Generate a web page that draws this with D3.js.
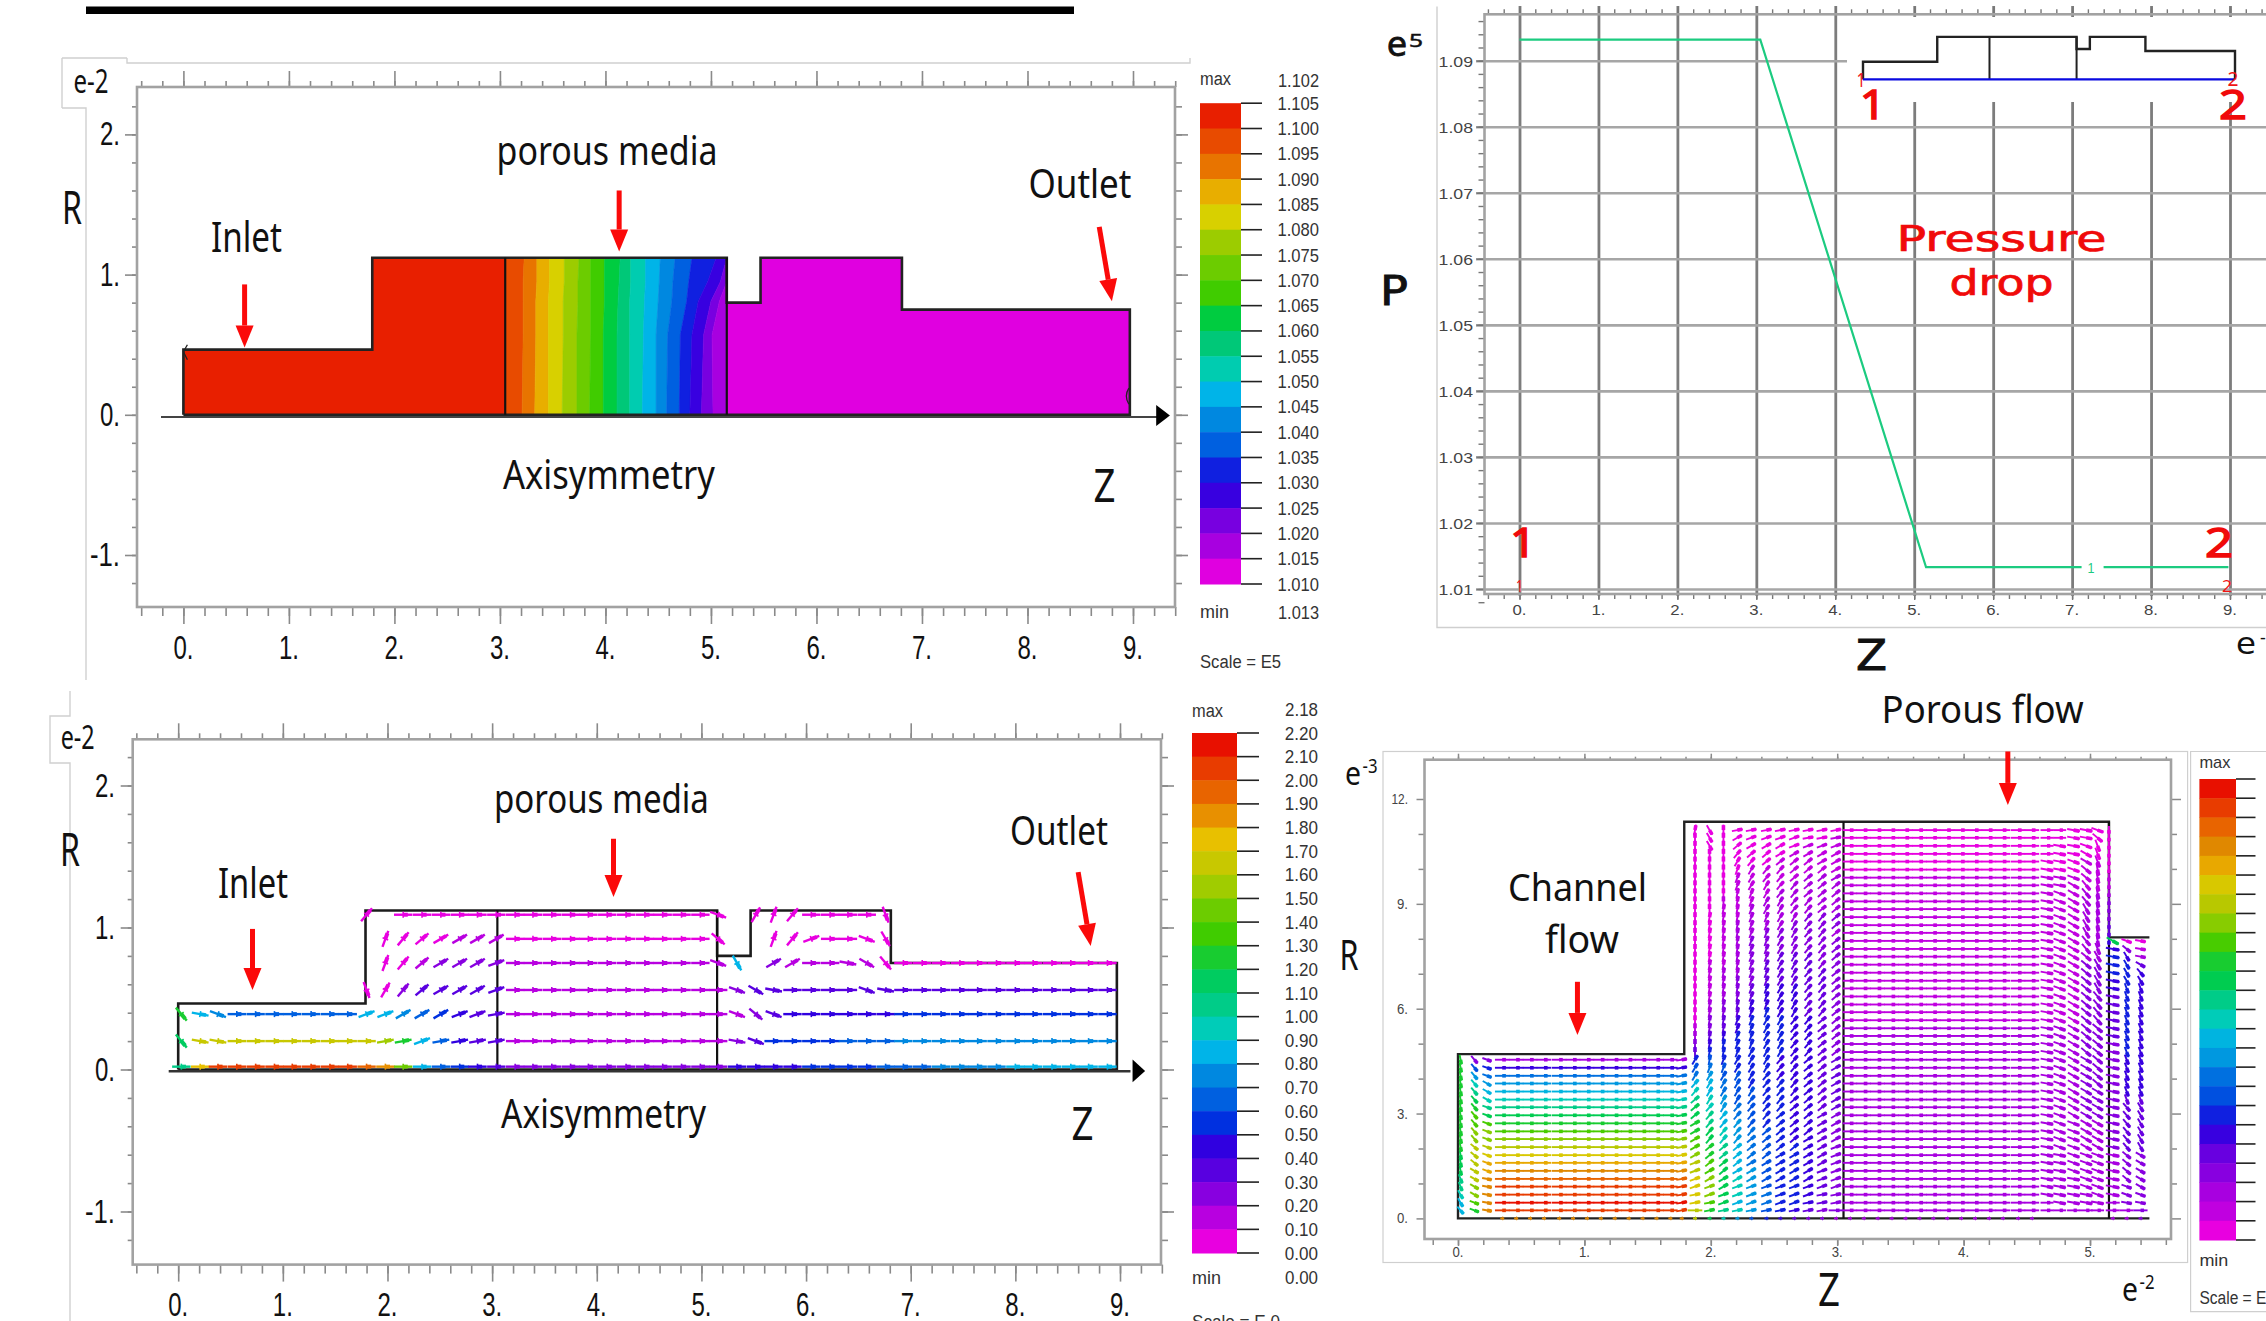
<!DOCTYPE html>
<html>
<head>
<meta charset="utf-8">
<script src="https://cdn.jsdelivr.net/npm/d3@7"></script>
<style>
html, body { margin: 0; padding: 0; background: #fff; overflow: hidden; }
text { fill: #111; }
</style>
</head>
<body>
<svg id="svg" width="2266" height="1321"></svg>
<script>
// shared stepped geometry, z in e-2, r in e-2
var profileZ = [0, 0, 1.79, 1.79, 5.15, 5.15, 5.47, 5.47, 6.81, 6.81, 8.97, 8.97, 0]
var profileR = [0, 0.465, 0.465, 1.12, 1.12, 0.80, 0.80, 1.12, 1.12, 0.75, 0.75, 0, 0]
var dividerZ = [3.05, 5.15]

// zoomed geometry of the flow panel, z in e-2, r in e-3
var zoomProfileZ = [5.47, 0, 0, 1.79, 1.79, 5.15, 5.15, 5.47]
var zoomProfileR = [0, 0, 4.7, 4.7, 11.35, 11.35, 8.04, 8.04]

var pressureTicks = ["1.105", "1.100", "1.095", "1.090", "1.085", "1.080", "1.075", "1.070", "1.065", "1.060", "1.055", "1.050", "1.045", "1.040", "1.035", "1.030", "1.025", "1.020", "1.015", "1.010"]
var pressureColors = ["#e81f00", "#e84b00", "#e87400", "#e8ae00", "#d8d000", "#9ccc00", "#6ccc00", "#40cc00", "#00cc40", "#00c878", "#00ccb0", "#00b4e8", "#0088e0", "#0060e0", "#1020e0", "#3800e0", "#7800e0", "#a800e0", "#e000e0"]
var velocityTicks = ["2.20", "2.10", "2.00", "1.90", "1.80", "1.70", "1.60", "1.50", "1.40", "1.30", "1.20", "1.10", "1.00", "0.90", "0.80", "0.70", "0.60", "0.50", "0.40", "0.30", "0.20", "0.10", "0.00"]
var velocityColors = ["#e81000", "#e83c00", "#e86400", "#e89000", "#e8c000", "#c8c800", "#a0cc00", "#6ccc00", "#40cc00", "#18cc30", "#00cc60", "#00cc88", "#00ccb8", "#00b4e8", "#0088e0", "#0060e0", "#0030e0", "#3000e0", "#5800e0", "#8800e0", "#b800e0", "#e800e0"]
var zoomColors = ["#e81000", "#e83c00", "#e86400", "#e08800", "#e8a800", "#d8c800", "#b8c800", "#88cc00", "#48cc00", "#18cc30", "#00cc50", "#00cc88", "#00ccb8", "#00b4e0", "#0098e0", "#0070e0", "#0050e0", "#1020e0", "#3800e0", "#6800e0", "#8800e0", "#a800e0", "#c000e0", "#e800e0"]

// pressure isolines inside the porous block: z of each band boundary at a given r
var isoR = [0, 0.57, 0.81, 0.95, 1.12]
var isoAtR0 = [3.05, 3.21, 3.33, 3.46, 3.59, 3.73, 3.85, 3.98, 4.11, 4.23, 4.35, 4.48, 4.58, 4.70, 4.80, 4.91, 5.02, 5.15]
var isoAtR1 = [3.05, 3.22, 3.34, 3.46, 3.60, 3.73, 3.86, 3.98, 4.11, 4.23, 4.36, 4.48, 4.59, 4.71, 4.82, 4.93, 5.01, 5.15]
var isoAtR2 = [3.05, 3.22, 3.34, 3.46, 3.60, 3.74, 3.86, 3.99, 4.12, 4.23, 4.37, 4.50, 4.63, 4.77, 4.88, 5.00, 5.08, 5.15]
var isoAtR3 = [3.05, 3.22, 3.35, 3.47, 3.61, 3.74, 3.86, 3.99, 4.13, 4.24, 4.38, 4.51, 4.64, 4.79, 4.97, 5.09, 5.15, 5.15]
var isoAtR4 = [3.05, 3.23, 3.35, 3.47, 3.61, 3.75, 3.86, 3.99, 4.14, 4.24, 4.38, 4.52, 4.66, 4.82, 5.05, 5.15, 5.15, 5.15]

// pressure along the axis
var lineZ = [0, 3.05, 5.15, 8.98]
var lineP = [1.0932, 1.0932, 1.0133, 1.0133]

// coarse vector plot, one string per row, one letter per column (a = lowest colour band)
// angle chars: digit = +10deg steps, letter = -10deg steps, empty = horizontal
var coarseZ = [0.03, 0.21, 0.38, 0.56, 0.74, 0.92, 1.09, 1.27, 1.45, 1.62, 1.80, 1.98, 2.15, 2.33, 2.51, 2.69, 2.86, 3.04, 3.22, 3.39, 3.57, 3.75, 3.92, 4.10, 4.28, 4.46, 4.63, 4.81, 4.99, 5.16, 5.34, 5.52, 5.69, 5.87, 6.05, 6.23, 6.40, 6.58, 6.76, 6.93, 7.11, 7.29, 7.47, 7.64, 7.82, 8.00, 8.17, 8.35, 8.53, 8.70, 8.88]
var coarseR = [0.02, 0.2, 0.39, 0.56, 0.75, 0.92, 1.09]
var coarseLevels = [
  "kr" + "uuuuuuuu" + "tsoigfed" + "cccccccccccc" + "eeeeffffg" + "gghhhhiiiiii",
  "l" + "qqqqqqqqqq" + "pmigedd" + "bbbbbbbbbbbb" + "cd" + "ffff" + "ggg" + "hhhhhhhhhhhh",
  "mih" + "ggggggg" + "iihgfedd" + "bbbbbbbbbbbb" + "bcd" + "eeeeee" + "ffffffffffff",
  ".........." + "aacddddd" + "bbbbbbbbbbbb" + "c" + "dddddddddddddddddddd",
  "..........." + "aabcccc" + "bbbbbbbbbbbb" + "i." + "cb" + "bbbb" + "a" + "aaaaaaaaaaaa",
  "..........." + "aaaabbb" + "aaaaaaaaaaaa" + ".." + "aaaaaaa" + "............",
  ".........." + "a." + "aaaaaa" + "aaaaaaaaaaaa" + ".a" + "aaaaaaa" + "............"
]
var coarseAngles = [
  "",
  "e" + "aa" + "00000000" + "1121111" + "000000000000" + "ab",
  "e" + "a" + "b" + "0000000" + "22333221" + "000000000000" + "bdb",
  "0000000000" + "g6543332" + "000000000000" + "bca" + "0000" + "ba",
  "00000000000" + "7543332" + "00000000000b" + "f0" + "33" + "00ac" + "e",
  "00000000000" + "7543333" + "00000000000d" + "00" + "75200bf",
  "0000000000" + "50" + "000000" + "00000000000b" + "06" + "75000" + "0g"
]

// fine vector plot: rows run from the top wall down to the axis
var fineR = [11.11, 10.89, 10.66, 10.43, 10.21, 9.98, 9.75, 9.53, 9.30, 9.07, 8.85, 8.62, 8.39, 8.17, 7.94, 7.71, 7.49, 7.26, 7.03, 6.80, 6.58, 6.35, 6.12, 5.90, 5.67, 5.44, 5.22, 4.99, 4.76, 4.54, 4.31, 4.08, 3.86, 3.63, 3.40, 3.18, 2.95, 2.72, 2.49, 2.27, 2.04, 1.81, 1.59, 1.36, 1.13, 0.91, 0.68, 0.45, 0.23, 0]

// inlet section, 3 columns, last 20 rows above the axis
var inletZ = [0.02, 0.13, 0.23]
var inletLevels = ["odd", "ohg", "oji", "olj", "omk", "onl", "oom", "opn", "opp", "oqq", "oqq", "orr", "nrs", "nrt", "nrt", "mru", "mqu", "lqu", "kpu", "kou"]
var inletAngles = ["heb", "heb", "heb", "hec", "hec", "hec", "heb", "heb", "heb", "heb", "heb", "hdb", "hdb", "hdb", "hcb", "gca", "gca", "fca", "fba", "eba"]

// straight channel, colour is set by the row alone
var channelZ = [0.35, 0.46, 0.57, 0.68, 0.80, 0.91, 1.02, 1.13, 1.24, 1.35, 1.46, 1.57, 1.68, 1.77]
var channelAngle = ["0", "0", "0", "0", "0", "0", "0", "0", "0", "0", "0", "0", "0", "1"]
var channelLevels = "cfijklmnopqrstuvwwxw"

// expansion ahead of the porous block
var fanZ = [1.875, 1.99, 2.10, 2.21, 2.32, 2.44, 2.55, 2.66, 2.77, 2.88, 2.99]
var fanLevels = ["aaaaaaaaaaa", "aaaaaaaaaab", "aaaaaaaabbb", "aaaaaaabbbb", "aaaaaabbbbb", "aaaabbbbbbb", "aaabbbbbccc", "aaabbbbcccc", "aaabbbccccc", "aabbbcccccc", "aabbccccccc", "aabbccccddd", "aabccccdddd", "aabccdddddc", "aabcddddddd", "aabcddddddd", "aabcddeeedd", "abbcdeeeedd", "abccdeeeeed", "abcddeeeeed", "abcdefffeed", "abcdefffeed", "acdeffffeed", "acdefgffeed", "adefgggffed", "bdefgggffed", "cefggggffed", "dfgggggffed", "eggggggffed", "ghggggfffee", "hihgggfffee", "ijhhggfffee", "kkihgggffee", "lkihhggffee", "mljhhggffee", "nljihggffee", "nmkihggffed", "omkjhggffed", "onljihgffed", "pnljihgffed", "pomkihggfed", "qomkihggfed", "rpnkihggfed", "rpnkjhggfed", "sqnljhggfed", "sqnljhggfed", "sqnljiggfed", "spnkjiggfed", "romljhgfedd", "rnljhgfeddc"]
var fanAngles = ["8f911111111", "9f932222111", "9f943332222", "99954433333", "99965444433", "99976554443", "99976554443", "99976655444", "99987655444", "99987665544", "99887665544", "98887766554", "98887766554", "98887766554", "98887766554", "98887766554", "98887766554", "98887766554", "98887766554", "98887766554", "98887766554", "98887766554", "98887766554", "98887766554", "98877665544", "98877665544", "98877665544", "98877665544", "98876665544", "68766655443", "67766655443", "66666555443", "56666555443", "56666555443", "46665554443", "45655554443", "45555544433", "35555544433", "35555444433", "35554444333", "34444444332", "34444433332", "24443333332", "23433333322", "23333333322", "22322222222", "12222222211", "11222222111", "01111111110", "00000000000"]

// porous block, horizontal part then the columns that bend towards the outlet
var porousZ = [3.10, 3.21, 3.32, 3.43, 3.54, 3.65, 3.76, 3.87, 3.98, 4.09, 4.20, 4.31, 4.43, 4.54]
var porousLevels = "aaaaaabbbbbbbbbbbbbbbbbbbccccccccccccccccccccccccc"
var bendZ = [4.66, 4.76, 4.87, 4.97, 5.06, 5.15]
var bendLevels = "aaaabbbbcccccccccddddddddddddddddddddcccccccccccccc"
var wallLevels = "aaaaaabbcdddeef"
var bendAngles = ["00aabi", "00aadi", "0aabgi", "0aacgi", "aabcgi", "aabdhi", "aabdhi", "aacehi", "abcehi", "abcehi", "abcfhi", "abcfhi", "abcfhi", "abcfhi", "abcehi", "abceg.", "abcdf.", "abcdf.", "abcdf.", "abcdf.", "abcdf.", "abcde.", "abcde.", "abcde.", "abcde.", "abcdd.", "abcdd.", "abcdd.", "abcdd.", "abccd.", "abccd.", "abccd.", "abccd.", "abccc.", "abccc.", "abccc.", "abccc.", "abbcc.", "abbcc.", "abbcc.", "abbcc.", "aabbb.", "aabbb.", "aabbb.", "aaabb.", "aaabb.", "aaaab.", "0aaaa.", "00000."]

// section behind the porous block, rows up to the step at r = 8
var exitZ = [5.18, 5.29, 5.40]
var exitLevels = ["naa", "fdb", "gfc", "gge", "ggf", "fgf", "fgf", "egf", "egf", "egf", "egf", "egf", "egf", "dgf", "dgf", "dff", "dff", "dff", "dff", "dff", "dee", "dee", "dee", "dee", "dee", "dee", "dee", "cdd", "cdd", "cdd", "cdd", "cdd", "cdd", "cdd", "ccd", "ccd"]
var exitAngles = ["cba", "ada", "afa", "afc", "afe", "aff", "agg", "agg", "agg", "agg", "agg", "agg", "agg", "agg", "agg", "agg", "agg", "agg", "agg", "agg", "agg", "aef", "aef", "aef", "aef", "aef", "aef", "adc", "adc", "adc", "adc", "abc", "abb", "0aa", "000", "000"]

var svg = d3.select("#svg")
var root = svg.append("g")
var sansCal = "'Noto Sans', sans-serif"
var sansAr = "'Liberation Sans', Arial, sans-serif"
var sansDj = "'DejaVu Sans', sans-serif"

function label(g, str, x, y, size, width, opts) {
    opts = opts || {}
    var t = g.append("text")
        .attr("x", x).attr("y", y)
        .attr("font-size", size)
        .attr("font-family", opts.family || sansCal)
        .attr("text-anchor", opts.anchor || "middle")
        .style("fill", opts.color || "#111")
        .text(str)
    if (width) t.attr("textLength", width).attr("lengthAdjust", "spacingAndGlyphs")
    if (opts.heavy) t.style("stroke", opts.color || "#111").style("stroke-width", opts.heavy)
    return t
}

function straight(g, x1, y1, x2, y2, color, w) {
    g.append("line").attr("x1", x1).attr("y1", y1).attr("x2", x2).attr("y2", y2)
        .attr("stroke", color).attr("stroke-width", w)
}

function redArrow(g, x1, y1, x2, y2) {
    var a = Math.atan2(y2 - y1, x2 - x1), hl = 22, hw = 9
    var bx = x2 - Math.cos(a) * hl, by = y2 - Math.sin(a) * hl
    straight(g, x1, y1, bx, by, "#fb0a0a", 5)
    g.append("polygon").attr("fill", "#fb0a0a").attr("points", [
        [x2, y2],
        [bx - Math.sin(a) * hw, by + Math.cos(a) * hw],
        [bx + Math.sin(a) * hw, by - Math.cos(a) * hw]
    ].join(" "))
}

function pick(str, i) {
    return str ? str[i] : undefined
}

function levelOf(ch) {
    return ch.charCodeAt(0) - 97
}

function angleOf(ch) {
    if (ch === undefined || ch === "0") return 0
    if (ch >= "a") return -(ch.charCodeAt(0) - 96) * 10
    return +ch * 10
}

// frame, ticks, tick labels, all through d3 axes
function drawAxes(g, o) {
    var b = o.box
    var axis = function (maker, scale, vals, size, transform) {
        var a = g.append("g").attr("transform", transform)
            .call(maker(scale).tickValues(vals).tickSize(size).tickFormat(""))
        a.select(".domain").remove()
        a.selectAll("line").attr("stroke", o.tickColor || "#8a8a8a").attr("stroke-width", o.tickWidth || 1.6)
        return a
    }
    axis(d3.axisBottom, o.z, o.zMinor, o.minorB, "translate(0," + b.b + ")")
    axis(d3.axisBottom, o.z, o.zMajor, o.majorB, "translate(0," + b.b + ")")
    axis(d3.axisTop, o.z, o.zMinor, o.minorT, "translate(0," + b.t + ")")
    axis(d3.axisTop, o.z, o.zMajor, o.majorT, "translate(0," + b.t + ")")
    axis(d3.axisLeft, o.r, o.rMinor, o.minorL, "translate(" + b.l + ",0)")
    axis(d3.axisLeft, o.r, o.rMajor, o.majorL, "translate(" + b.l + ",0)")
    if (o.minorR) {
        axis(d3.axisRight, o.r, o.rMinor, o.minorR, "translate(" + b.r + ",0)")
        axis(d3.axisRight, o.r, o.rMajor, o.majorR, "translate(" + b.r + ",0)")
    }
    g.append("rect").attr("x", b.l).attr("y", b.t).attr("width", b.r - b.l).attr("height", b.b - b.t)
        .attr("fill", "none").attr("stroke", "#a2a2a2").attr("stroke-width", 2.6)
    o.zMajor.forEach(function (v) {
        label(g, v + ".", o.z(v), o.zLabelY, o.labelSize, o.zLabelW, { family: sansAr, color: o.labelColor })
    })
    o.rMajor.forEach(function (v) {
        var str = (o.rLabels ? o.rLabels(v) : v + ".")
        label(g, str, o.rLabelX, o.r(v) + o.rLabelDy, o.labelSize, str.length * o.rLabelW, { family: sansAr, anchor: "end", color: o.labelColor })
    })
}

function colorBar(g, o) {
    var n = o.colors.length
    var band = d3.scaleBand().domain(d3.range(n)).range([o.top, o.bottom]).paddingInner(0)
    g.selectAll(null).data(o.colors).enter().append("rect")
        .attr("x", o.x0).attr("width", o.x1 - o.x0)
        .attr("y", function (d, i) { return band(i) })
        .attr("height", band.bandwidth() + 0.5)
        .attr("fill", function (d) { return d })
    var ty = d3.scaleLinear().domain([0, n]).range([o.top, o.bottom])
    g.selectAll(null).data(d3.range(n + 1)).enter().append("line")
        .attr("x1", o.x1).attr("x2", o.tick)
        .attr("y1", ty).attr("y2", ty)
        .attr("stroke", "#222").attr("stroke-width", 1.6)
    if (o.ticks) {
        o.ticks.forEach(function (t, i) {
            label(g, t, o.textRight, ty(i) + 6.5, 18.5, t.length * 8.3, { family: sansAr, anchor: "end", color: "#333" })
        })
    }
    label(g, "max", o.x0, o.maxY, o.small, 31, { family: sansAr, anchor: "start", color: "#333" })
    label(g, "min", o.x0, o.minY, o.small, 29, { family: sansAr, anchor: "start", color: "#333" })
}

// each cell becomes a short shaft with a thicker head, colour lists run from red down to magenta
function drawVectors(g, cells, x, y, colors, o) {
    var pos = cells.map(function (d) {
        var a = d.angle * Math.PI / 180
        var L = d.len !== undefined ? d.len : (d.angle === 0 ? o.lenFlat : o.lenSlant)
        return { px: x(d.z), py: y(d.r), cx: Math.cos(a), cy: -Math.sin(a), L: L, color: colors[colors.length - 1 - d.level], flat: d.angle === 0 }
    })
    g.selectAll(null).data(pos).enter().append("line")
        .attr("x1", function (d) { return d.px - d.cx * d.L / 2 })
        .attr("y1", function (d) { return d.py - d.cy * d.L / 2 })
        .attr("x2", function (d) { return d.px + d.cx * d.L / 2 })
        .attr("y2", function (d) { return d.py + d.cy * d.L / 2 })
        .attr("stroke", function (d) { return d.color })
        .attr("stroke-width", o.shaft)
    g.selectAll(null).data(pos).enter().append("line")
        .attr("x1", function (d) { return d.px })
        .attr("y1", function (d) { return d.py })
        .attr("x2", function (d) { return d.px + d.cx * d.L * (d.flat ? 0.25 : o.head) })
        .attr("y2", function (d) { return d.py + d.cy * d.L * (d.flat ? 0.25 : o.head) })
        .attr("stroke", function (d) { return d.color })
        .attr("stroke-width", o.headWidth)
    if (o.cross) {
        g.selectAll(null).data(pos).enter().append("line")
            .attr("x1", function (d) { return d.px + d.cy * o.cross })
            .attr("y1", function (d) { return d.py - d.cx * o.cross })
            .attr("x2", function (d) { return d.px - d.cy * o.cross })
            .attr("y2", function (d) { return d.py + d.cx * o.cross })
            .attr("stroke", function (d) { return d.color })
            .attr("stroke-width", 1.6)
    }
}

function stepped(z, r) {
    return d3.line().x(function (d, i) { return z(d[0]) }).y(function (d) { return r(d[1]) })
}

var profilePts = d3.zip(profileZ, profileR)

function zTicks(a, b) { return d3.range(a, b + 0.001, 0.2) }

// ---- top background bar
root.append("rect").attr("x", 86).attr("y", 6.5).attr("width", 988).attr("height", 7.5).attr("fill", "#000")

// ---- panel A: pressure contour
function panelA() {
    var g = root.append("g")
    var z = d3.scaleLinear().domain([0, 9]).range([183.4, 1133])
    var r = d3.scaleLinear().domain([-1, 2]).range([555, 134.4])
    var box = { l: 137, t: 87, r: 1175, b: 607 }

    g.append("path").attr("fill", "none").attr("stroke", "#d0d0d0").attr("stroke-width", 1.4)
        .attr("d", "M62,108V58M62,58H127M127,58V63H1190V58M62,108H86V680")
    drawAxes(g, {
        z: z, r: r, box: box,
        zMajor: d3.range(0, 10), zMinor: zTicks(-0.4, 9.4),
        rMajor: [2, 1, 0, -1], rMinor: zTicks(-1.2, 2.2),
        minorB: 9, majorB: 17, minorT: 6, majorT: 16, minorL: 5, majorL: 12, minorR: 7, majorR: 13,
        zLabelY: 659, labelSize: 33, zLabelW: 20, rLabelX: 120, rLabelDy: 11, rLabelW: 10
    })
    colorBar(g, {
        colors: pressureColors, ticks: pressureTicks, x0: 1200, x1: 1241, tick: 1262,
        top: 103.2, bottom: 584, textRight: 1319, maxY: 85, minY: 618, small: 18
    })
    label(g, "1.102", 1319, 87, 18.5, 41, { family: sansAr, anchor: "end", color: "#333" })
    label(g, "1.013", 1319, 619, 18.5, 41, { family: sansAr, anchor: "end", color: "#333" })
    label(g, "Scale = E5", 1200, 668, 18, 81, { family: sansAr, anchor: "start", color: "#333" })

    var defs = g.append("defs")
    defs.append("clipPath").attr("id", "clipA").append("path").attr("d", stepped(z, r)(profilePts))
    var body = g.append("g").attr("clip-path", "url(#clipA)")
    body.append("rect").attr("x", z(0)).attr("width", z(3.05) - z(0)).attr("y", r(1.3)).attr("height", r(0) - r(1.3))
        .attr("fill", pressureColors[0])
    body.append("rect").attr("x", z(5.15)).attr("width", z(8.97) - z(5.15)).attr("y", r(1.3)).attr("height", r(0) - r(1.3))
        .attr("fill", pressureColors[18])
    var iso = [isoAtR0, isoAtR1, isoAtR2, isoAtR3, isoAtR4]
    var edge = d3.line().x(function (d) { return z(d[0]) }).y(function (d) { return r(d[1]) })
    d3.range(isoAtR0.length - 1).forEach(function (i) {
        var left = iso.map(function (row, k) { return [row[i], isoR[k]] })
        var right = iso.map(function (row, k) { return [row[i + 1], isoR[k]] }).reverse()
        body.append("path").attr("d", edge(left.concat(right)) + "Z")
            .attr("fill", pressureColors[i + 1]).attr("stroke", pressureColors[i + 1]).attr("stroke-width", 0.6)
    })
    g.append("path").attr("d", stepped(z, r)(profilePts)).attr("fill", "none").attr("stroke", "#222").attr("stroke-width", 2.6)
    dividerZ.forEach(function (v) { straight(g, z(v), r(0), z(v), r(1.12), "#111", 2.2) })

    // axisymmetry line and arrow head
    straight(g, 161, r(-0.015), z(9.3), r(-0.015), "#444", 2)
    g.append("polygon").attr("fill", "#000").attr("points", [[z(9.22), r(0.07)], [z(9.35), r(-0.005)], [z(9.22), r(-0.08)]].join(" "))
    g.append("path").attr("d", "M" + (z(0) + 4) + "," + r(0.50) + "l-4,7l4,8").attr("fill", "none").attr("stroke", "#222").attr("stroke-width", 1.3)
    g.append("path").attr("d", "M" + (z(8.97) - 1) + "," + r(0.19) + "q-5,8 0,16").attr("fill", "none").attr("stroke", "#222").attr("stroke-width", 1.3)

    redArrow(g, z(0.58), r(0.93), z(0.58), r(0.48))
    redArrow(g, z(4.13), r(1.6), z(4.13), r(1.165))
    redArrow(g, z(8.68), r(1.34), z(8.80), r(0.81))

    label(g, "e-2", 91, 93, 33, 35)
    label(g, "R", 72, 224, 45, 20)
    label(g, "Inlet", 246.5, 252, 42, 71)
    label(g, "porous media", 607, 165, 40, 221)
    label(g, "Outlet", 1080, 198, 40, 103)
    label(g, "Axisymmetry", 609, 489, 40, 212)
    label(g, "Z", 1104.5, 502, 46, 22)
}

// ---- panel C: pressure drop line with inset
function panelC() {
    var g = root.append("g")
    var z = d3.scaleLinear().domain([0, 9]).range([1519.5, 2230])
    var p = d3.scaleLinear().domain([1.01, 1.09]).range([589, 60.7])
    var box = { l: 1484.5, t: 14.3, r: 2268, b: 594 }

    g.append("path").attr("fill", "none").attr("stroke", "#cfcfcf").attr("stroke-width", 1.4)
        .attr("d", "M1437,6.5V627.5H2266")

    var grid = d3.range(0, 10)
    var gridV = g.append("g").attr("transform", "translate(0,596)")
        .call(d3.axisTop(z).tickValues(grid).tickSize(590).tickFormat(""))
    gridV.select(".domain").remove()
    gridV.selectAll("line").attr("stroke", "#7c7c7c").attr("stroke-width", 2.8)
    var pMajor = [1.01, 1.02, 1.03, 1.04, 1.05, 1.06, 1.07, 1.08, 1.09]
    var gridH = g.append("g").attr("transform", "translate(2266,0)")
        .call(d3.axisLeft(p).tickValues(pMajor).tickSize(790).tickFormat(""))
    gridH.select(".domain").remove()
    gridH.selectAll("line").attr("stroke", "#a6a6a6").attr("stroke-width", 2.6)

    var pMinor = d3.range(1.008, 1.0961, 0.002).filter(function (v) { return p(v) > 16 })
    drawAxes(g, {
        z: z, r: p, box: box,
        zMajor: grid, zMinor: zTicks(-0.4, 9.4),
        rMajor: pMajor, rMinor: pMinor,
        minorB: 5, majorB: 6, minorT: 5, majorT: 7, minorL: 6, majorL: 8,
        zLabelY: 615, labelSize: 15.5, zLabelW: 14, rLabelX: 1473, rLabelDy: 6, rLabelW: 8.6,
        labelColor: "#444", tickColor: "#777", tickWidth: 1.4,
        rLabels: function (v) { return v.toFixed(2) }
    })

    // green pressure curve
    var line = d3.line().x(function (d) { return z(d[0]) }).y(function (d) { return p(d[1]) })
    g.append("path").attr("d", line(d3.zip(lineZ, lineP))).attr("fill", "none").attr("stroke", "#1ccb80").attr("stroke-width", 2.2)
    g.append("rect").attr("x", z(7.12)).attr("y", p(1.0133) - 6).attr("width", 22).attr("height", 12).attr("fill", "#fff")
    label(g, "1", z(7.24), p(1.0133) + 6, 15, 7, { family: sansAr, color: "#1ccb80" })

    // inset keeps its own white patch over the grid
    g.append("rect").attr("x", 1847).attr("y", 17).attr("width", 419).attr("height", 85).attr("fill", "#fff")
    var iz = d3.scaleLinear().domain([0, 8.97]).range([1863, 2235])
    var ir = d3.scaleLinear().domain([0, 1.12]).range([79.4, 36.9])
    g.append("path").attr("d", stepped(iz, ir)(profilePts.slice(0, 12))).attr("fill", "none").attr("stroke", "#222").attr("stroke-width", 2.4)
    dividerZ.forEach(function (v) { straight(g, iz(v), ir(0), iz(v), ir(1.12), "#222", 2) })
    straight(g, iz(0), ir(0), iz(8.97), ir(0), "#0a0ae0", 2.4)

    label(g, "1", iz(0) - 2, ir(0) + 8, 20, 9, { color: "#f01414" })
    label(g, "2", iz(8.97) - 2, ir(0) + 7, 20, 11, { color: "#f01414" })
    label(g, "1", 1872.7, 119, 40, 26, { color: "#f00a0a", heavy: 1.4 })
    label(g, "2", 2233, 119, 40, 28, { color: "#f00a0a", heavy: 1.4 })
    label(g, "1", 1523, 557, 40, 26, { color: "#f00a0a", heavy: 1.4 })
    label(g, "2", 2219, 557, 40, 28, { color: "#f00a0a", heavy: 1.4 })
    label(g, "1", z(0), 592, 17, 7, { color: "#f01414" })
    label(g, "2", z(9) - 3, 592, 17, 10, { color: "#f01414" })
    label(g, "Pressure", 2001.5, 250.6, 35, 210, { family: sansDj, color: "#f00a0a", heavy: 0.7 })
    label(g, "drop", 2001.5, 295, 35, 104, { family: sansDj, color: "#f00a0a", heavy: 0.7 })

    label(g, "e", 1397, 56, 34, 20, { family: sansDj, heavy: 0.9 })
    label(g, "5", 1416, 47, 18, 14, { heavy: 0.5 })
    label(g, "P", 1394, 305, 40, 28, { family: sansDj, heavy: 0.9 })
    label(g, "Z", 1871.5, 670, 42, 31, { family: sansDj, heavy: 0.9 })
    label(g, "e", 2246, 654, 31, 20, { family: sansDj })
    label(g, "-2", 2268, 644, 18, 16)
}

// ---- panel B: coarse velocity vectors
function panelB() {
    var g = root.append("g")
    var z = d3.scaleLinear().domain([0, 9]).range([178.2, 1120])
    var r = d3.scaleLinear().domain([-1, 2]).range([1211.5, 785.5])
    var box = { l: 132.7, t: 739.3, r: 1161, b: 1264.6 }

    g.append("path").attr("fill", "none").attr("stroke", "#d0d0d0").attr("stroke-width", 1.4)
        .attr("d", "M70,691V716H50V763H70V1321")
    drawAxes(g, {
        z: z, r: r, box: box,
        zMajor: d3.range(0, 10), zMinor: zTicks(-0.4, 9.4),
        rMajor: [2, 1, 0, -1], rMinor: zTicks(-1.2, 2.2),
        minorB: 9, majorB: 17, minorT: 6, majorT: 16, minorL: 5, majorL: 12, minorR: 7, majorR: 13,
        zLabelY: 1316, labelSize: 33, zLabelW: 20, rLabelX: 115, rLabelDy: 11, rLabelW: 10
    })
    colorBar(g, {
        colors: velocityColors, ticks: velocityTicks, x0: 1192, x1: 1237, tick: 1259,
        top: 733, bottom: 1253, textRight: 1318, maxY: 717, minY: 1284, small: 18
    })
    label(g, "2.18", 1318, 716, 18.5, 33, { family: sansAr, anchor: "end", color: "#333" })
    label(g, "0.00", 1318, 1284, 18.5, 33, { family: sansAr, anchor: "end", color: "#333" })
    label(g, "Scale = E 0", 1192, 1328, 18, 88, { family: sansAr, anchor: "start", color: "#333" })

    var cells = []
    coarseR.forEach(function (rv, i) {
        coarseZ.forEach(function (zv, j) {
            var ch = coarseLevels[i][j]
            if (ch === undefined || ch === ".") return
            cells.push({ z: zv, r: rv, level: levelOf(ch), angle: angleOf(pick(coarseAngles[i], j)) })
        })
    })
    g.append("path").attr("d", stepped(z, r)(profilePts)).attr("fill", "none").attr("stroke", "#1c1c1c").attr("stroke-width", 2.6)
    dividerZ.forEach(function (v) { straight(g, z(v), r(0), z(v), r(1.12), "#111", 2.2) })
    straight(g, 168.7, r(-0.012), z(9.1), r(-0.012), "#333", 2.4)
    drawVectors(g, cells, z, r, velocityColors, { lenFlat: 18.4, lenSlant: 17, shaft: 2.4, head: 0.35, headWidth: 4, cross: 3 })
    g.append("polygon").attr("fill", "#000").attr("points", [[z(9.12), r(0.07)], [z(9.24), r(-0.01)], [z(9.12), r(-0.09)]].join(" "))

    redArrow(g, z(0.71), r(0.99), z(0.71), r(0.56))
    redArrow(g, z(4.16), r(1.625), z(4.16), r(1.215))
    redArrow(g, z(8.6), r(1.39), z(8.72), r(0.87))

    label(g, "e-2", 77.7, 748.7, 33, 34)
    label(g, "R", 70, 866, 45, 20)
    label(g, "Inlet", 253, 897.5, 42, 70)
    label(g, "porous media", 601.4, 813, 40, 215)
    label(g, "Outlet", 1059, 845, 40, 98)
    label(g, "Axisymmetry", 603.6, 1127.7, 40, 205)
    label(g, "Z", 1082.5, 1140, 46, 22)
}

// ---- panel D: fine velocity vectors
function panelD() {
    var g = root.append("g")
    var z = d3.scaleLinear().domain([0, 5]).range([1458, 2090])
    var r = d3.scaleLinear().domain([0, 12]).range([1218.4, 799])
    var box = { l: 1424.5, t: 759.7, r: 2171, b: 1239 }

    g.append("rect").attr("x", 1383).attr("y", 751.5).attr("width", 804.6).attr("height", 511).attr("fill", "none").attr("stroke", "#cfcfcf").attr("stroke-width", 1.2)
    g.append("path").attr("fill", "none").attr("stroke", "#cfcfcf").attr("stroke-width", 1.2).attr("d", "M2266,751.5H2190.6V1311.6H2266")

    drawAxes(g, {
        z: z, r: r, box: box,
        zMajor: [0, 1, 2, 3, 4, 5], zMinor: zTicks(-0.2, 5.6),
        rMajor: [12, 9, 6, 3, 0], rMinor: [11, 10, 8, 7, 5, 4, 2, 1],
        minorB: 6, majorB: 7, minorT: 3, majorT: 6, minorL: 6, majorL: 8, minorR: 6, majorR: 10,
        zLabelY: 1257, labelSize: 14, zLabelW: 11, rLabelX: 1408, rLabelDy: 5, rLabelW: 5.5,
        labelColor: "#444", tickColor: "#8a8a8a", tickWidth: 1.5
    })
    colorBar(g, {
        colors: zoomColors, x0: 2199.4, x1: 2236, tick: 2255.5,
        top: 779, bottom: 1240, maxY: 768, minY: 1266, small: 17
    })
    label(g, "Scale = E", 2199.4, 1303.5, 18, 67, { family: sansAr, anchor: "start", color: "#333" })

    g.append("path").attr("d", stepped(z, r)(d3.zip(zoomProfileZ, zoomProfileR))).attr("fill", "none").attr("stroke", "#222").attr("stroke-width", 2.4)
    dividerZ.forEach(function (v) { straight(g, z(v), r(0), z(v), r(11.35), "#111", 2.2) })

    var cells = []
    fineR.forEach(function (rv, i) {
        var axisRow = i === fineR.length - 1
        var low = i - 29 // rows of the inlet channel
        if (low >= 0 && !axisRow) {
            inletZ.forEach(function (zv, j) {
                cells.push({ z: zv, r: rv, level: levelOf(inletLevels[low][j]), angle: angleOf(inletAngles[low][j]), len: 10 })
            })
            channelZ.forEach(function (zv, j) {
                cells.push({ z: zv, r: rv, level: levelOf(channelLevels[low]), angle: angleOf(channelAngle[j]) })
            })
        }
        if (axisRow) {
            channelZ.forEach(function (zv) {
                cells.push({ z: zv, r: rv, level: 20, angle: 0, len: 4 })
            })
        }
        fanZ.forEach(function (zv, j) {
            var c = { z: zv, r: rv, level: levelOf(fanLevels[i][j]), angle: angleOf(fanAngles[i][j]) }
            if (axisRow) c.len = 4
            cells.push(c)
        })
        porousZ.forEach(function (zv) {
            var c = { z: zv, r: rv, level: levelOf(porousLevels[i]), angle: 0 }
            if (axisRow) c.len = 4
            cells.push(c)
        })
        bendZ.forEach(function (zv, j) {
            var ch = pick(bendAngles[i], j)
            if (ch === "." || ch === undefined) return
            var lev = j === 5 ? levelOf(wallLevels[i] || "f") : (j < 3 ? levelOf(porousLevels[i]) : levelOf(bendLevels[i]))
            var c = { z: zv, r: rv, level: lev, angle: angleOf(ch) }
            c.len = j === 5 ? 8 : 13
            if (axisRow) c.len = 4
            cells.push(c)
        })
        var ex = i - 14 // rows below the step at r = 8
        if (ex >= 0) {
            exitZ.forEach(function (zv, j) {
                var c = { z: zv, r: rv, level: levelOf(exitLevels[ex][j]), angle: angleOf(exitAngles[ex][j]) }
                if (c.angle === 0 || j === 0) c.len = 14
                else c.len = 11
                if (axisRow) c.len = 4
                cells.push(c)
            })
        }
    })
    drawVectors(g, cells, z, r, zoomColors, { lenFlat: 14.6, lenSlant: 11, shaft: 1.9, head: 0.45, headWidth: 3.6 })

    redArrow(g, z(0.945), r(6.77), z(0.945), r(5.25))
    redArrow(g, z(4.35), r(13.36), z(4.35), r(11.83))

    label(g, "e", 1353, 785, 32, 16)
    label(g, "-3", 1370, 773, 19, 15)
    label(g, "R", 1349, 970, 42, 19)
    label(g, "Channel", 1577.5, 901, 39, 139)
    label(g, "flow", 1582, 952.7, 39, 74)
    label(g, "Porous flow", 1982.6, 723, 39, 202)
    label(g, "Z", 1829, 1305.5, 46, 22)
    label(g, "e", 2130, 1301, 32, 16)
    label(g, "-2", 2147, 1289, 19, 15)
}

panelA()
panelC()
panelB()
panelD()
</script>
</body>
</html>
